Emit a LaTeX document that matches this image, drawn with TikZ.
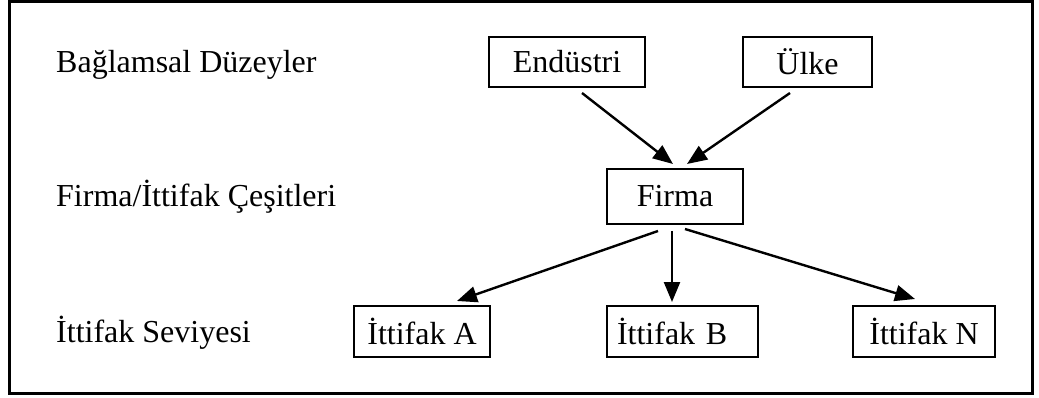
\documentclass[tikz,border=0pt]{standalone}
\usepackage{fontspec}
\setmainfont{Liberation Serif}
\usetikzlibrary{arrows.meta}
\begin{document}
\begin{tikzpicture}[x=1pt,y=-1pt,
  every node/.style={font=\fontsize{32}{38}\selectfont},
  box/.style={draw=black,line width=2pt,fill=white,inner sep=0pt,minimum height=#1},
  box/.default=50pt,
  levellabel/.style={anchor=base west,inner sep=0pt},
  arr/.style={line width=2.4pt,-{Triangle[length=20pt,width=16pt]}}]
  \useasboundingbox (0,0) rectangle (1039,398);
  % outer frame
  \draw[line width=3pt] (9,1.5) rectangle (1032,393.5);

  % row labels
  \node[levellabel] (l1) at (56,73) {Bağlamsal Düzeyler};
  \node[levellabel] (l2) at (56,207) {Firma/İttifak Çeşitleri};
  \node[levellabel] (l3) at (56,342) {İttifak Seviyesi};

  % contextual level
  \node[box, minimum width=156pt] (end) at (567,62) {Endüstri};
  \node[box, minimum width=129pt] (ulke) at (807.5,62) {Ülke};

  % firm
  \node[box=55pt, minimum width=136pt] (firma) at (675,196.5) {Firma};

  % alliances
  \node[box=51pt, minimum width=136pt] (a) at (422,331.5) {İttifak A};
  \node[box=51pt, text width=131pt, inner xsep=10pt, align=left] (b) at (682.5,331.5) {İttifak B};
  \node[box=51pt, minimum width=142pt] (n) at (924,331.5) {İttifak N};

  % connectors
  \draw[arr] ([xshift=15pt,yshift=-5pt]end.south) -- ([xshift=-2pt,yshift=4pt]firma.north);
  \draw[arr] ([xshift=-17.5pt,yshift=-5pt]ulke.south) -- ([xshift=12pt,yshift=4pt]firma.north);
  \draw[arr] ([xshift=-17pt,yshift=-6pt]firma.south) -- ([xshift=35pt,yshift=4pt]a.north);
  \draw[arr] ([xshift=-3pt,yshift=-6pt]firma.south) -- ([xshift=-10.5pt,yshift=3pt]b.north);
  \draw[arr] ([xshift=10pt,yshift=-4pt]firma.south) -- ([xshift=-9pt,yshift=6pt]n.north);
\end{tikzpicture}
\end{document}
